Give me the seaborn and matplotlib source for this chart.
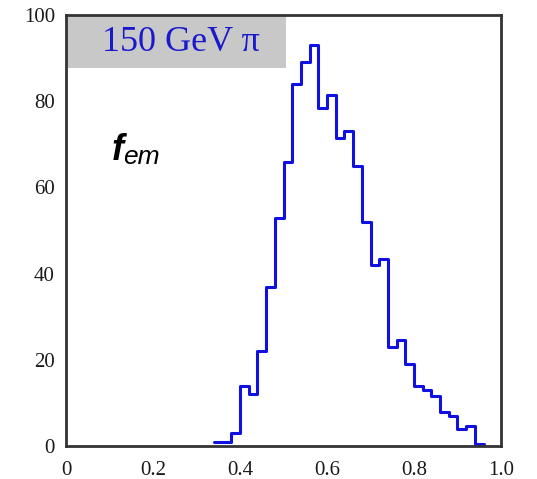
import numpy as np
import pandas as pd
import matplotlib
matplotlib.use("Agg")
import matplotlib.pyplot as plt
import seaborn as sns

# Histogram of f_em (bin width 0.02)
bin_left = [0.34, 0.36, 0.38, 0.40, 0.42, 0.44, 0.46, 0.48, 0.50, 0.52,
            0.54, 0.56, 0.58, 0.60, 0.62, 0.64, 0.66, 0.68, 0.70, 0.72,
            0.74, 0.76, 0.78, 0.80, 0.82, 0.84, 0.86, 0.88, 0.90, 0.92, 0.94]
counts = [1, 1, 3, 14, 12, 22, 37, 53, 66, 84,
          89, 93, 78.5, 81.5, 71.5, 73, 65, 52, 42, 43.5,
          23, 24.5, 19, 14, 13, 11.5, 8, 7, 4, 4.7, 0.4]
bin_width = 0.02
x_ticks = [0, 0.2, 0.4, 0.6, 0.8, 1.0]
x_tick_labels = ["0", "0.2", "0.4", "0.6", "0.8", "1.0"]
y_ticks = [0, 20, 40, 60, 80, 100]
y_tick_labels = ["0", "20", "40", "60", "80", "100"]
title_text = "150 GeV π"

sns.set_style("white")
plt.rcParams["font.family"] = ["Liberation Serif", "DejaVu Serif"]

df = pd.DataFrame({"x": np.array(bin_left) + bin_width / 2, "w": counts})

fig = plt.figure(figsize=(5.37, 4.79), dpi=100)
ax = fig.add_axes([66 / 537, 33 / 479, (501 - 66) / 537, (446 - 15) / 479])

sns.histplot(data=df, x="x", weights="w", binwidth=bin_width,
             binrange=(bin_left[0], bin_left[-1] + bin_width),
             element="step", fill=False, color="#1010e0", linewidth=2.2,
             ax=ax)

ax.set_xlim(0, 1.0)
ax.set_ylim(0, 100)
ax.set_xticks(x_ticks)
ax.set_xticklabels(x_tick_labels)
ax.set_yticks(y_ticks)
ax.set_yticklabels(y_tick_labels)
ax.set_xlabel("")
ax.set_ylabel("")
ax.tick_params(axis="both", direction="in", length=6, width=1.2,
               colors="#333333", labelcolor="#1a1a1a", labelsize=15)
ax.tick_params(axis="x", pad=11)
ax.tick_params(axis="y", pad=8)
for s in ax.spines.values():
    s.set_visible(True)
    s.set_color("#333333")
    s.set_linewidth(2.0)

# grey title box
ax.add_patch(plt.Rectangle((0.0, 0.877), 0.505, 0.12, transform=ax.transAxes,
                           facecolor="#c8c8c8", edgecolor="none", zorder=1))
ax.text(0.264, 0.936, title_text, transform=ax.transAxes, ha="center",
        va="center", fontsize=26, color="#1a1acc",
        family=["Liberation Serif", "DejaVu Serif"], zorder=2)

# f_em label
fig.text(112 / 537, 1 - 160 / 479, "f", fontsize=26, fontweight="bold",
         fontstyle="italic", family=["Liberation Sans", "DejaVu Sans"],
         color="black", ha="left", va="baseline")
fig.text(123 / 537, 1 - 164 / 479, "em", fontsize=19, fontstyle="italic",
         family=["Liberation Sans", "DejaVu Sans"], color="black",
         ha="left", va="baseline")

fig.savefig("out.png", dpi=100)
